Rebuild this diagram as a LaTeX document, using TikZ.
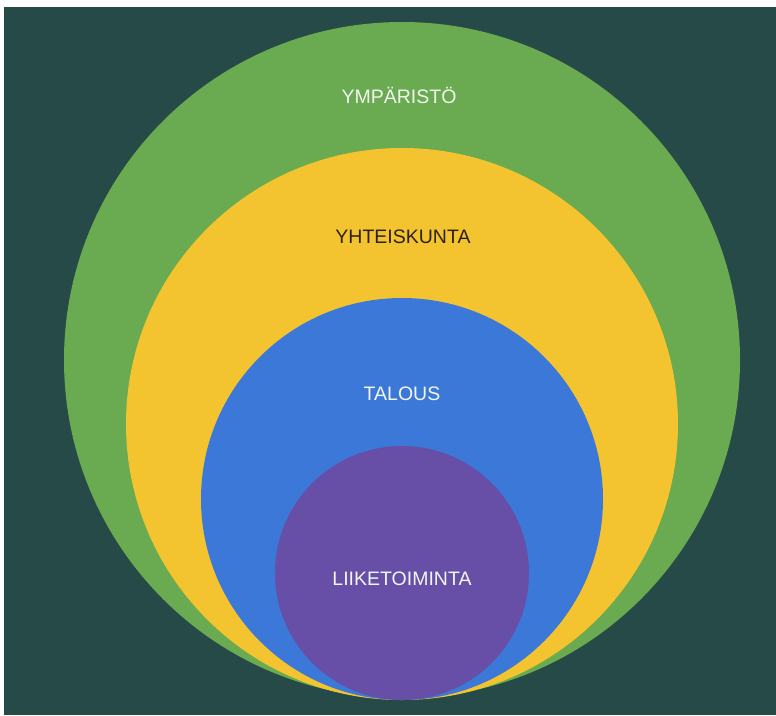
\documentclass[tikz,border=0pt]{standalone}
\usepackage{fontspec}
\setmainfont{Liberation Sans}
\definecolor{bgdark}{HTML}{264A48}
\definecolor{cgreen}{HTML}{6AAA50}
\definecolor{cyellow}{HTML}{F4C430}
\definecolor{cblue}{HTML}{3C78D8}
\definecolor{cpurple}{HTML}{674EA7}
\definecolor{ctextlight}{HTML}{F2F6F0}
\definecolor{ctextdark}{HTML}{2A2212}
\begin{document}
\begin{tikzpicture}[x=1pt,y=-1pt,
  ring/.style={circle,inner sep=0pt,outer sep=0pt,draw=none},
  lab/.style={anchor=base,inner sep=0pt,font=\fontsize{19.5}{21}\selectfont}]
\useasboundingbox (0,0) rectangle (776,715);
\fill[white] (0,0) rectangle (776,715);
\fill[bgdark] (4,7) rectangle (776,715);
\node[ring,fill=cgreen,minimum size=676pt] (env) at (402,360) {};
\node[ring,fill=cyellow,minimum size=552pt] (soc) at (402,424) {};
\node[ring,fill=cblue,minimum size=402pt] (eco) at (402,499) {};
\node[ring,fill=cpurple,minimum size=254pt] (bus) at (402,573) {};
\node[lab,text=ctextlight] (tenv) at (399,103) {YMPÄRISTÖ};
\node[lab,text=ctextdark] (tsoc) at (403,243) {YHTEISKUNTA};
\node[lab,text=ctextlight] (teco) at (402,400) {TALOUS};
\node[lab,text=ctextlight] (tbus) at (402,585) {LIIKETOIMINTA};
\end{tikzpicture}
\end{document}
